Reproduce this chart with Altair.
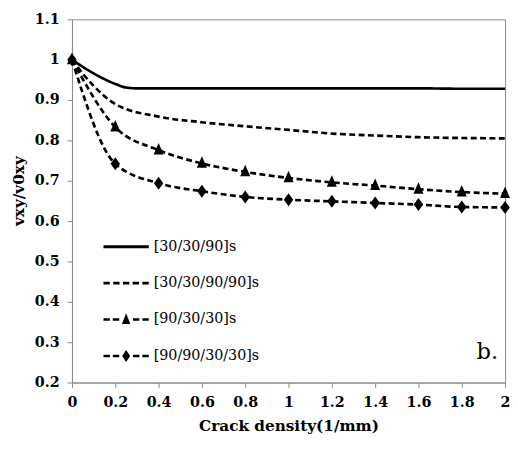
import altair as alt
import pandas as pd

series = ["[30/30/90]s", "[30/30/90/90]s", "[90/30/30]s", "[90/90/30/30]s"]

x_s1 = [0, 0.1, 0.2, 0.25, 0.3, 0.4, 0.6, 0.8, 1.0, 1.2, 1.4, 1.6, 1.8, 2.0]
y_s1 = [1.0, 0.966, 0.940, 0.931, 0.929, 0.929, 0.929, 0.929, 0.929, 0.929, 0.929, 0.929, 0.928, 0.928]

x_s2 = [0, 0.1, 0.2, 0.4, 0.6, 0.8, 1.0, 1.2, 1.4, 1.6, 1.8, 2.0]
y_s2 = [1.0, 0.935, 0.890, 0.859, 0.845, 0.835, 0.826, 0.817, 0.812, 0.808, 0.806, 0.805]

x_pts = [0, 0.2, 0.4, 0.6, 0.8, 1.0, 1.2, 1.4, 1.6, 1.8, 2.0]
y_s3 = [1.0, 0.833, 0.776, 0.743, 0.722, 0.707, 0.696, 0.688, 0.679, 0.672, 0.668]
y_s4 = [1.0, 0.742, 0.694, 0.674, 0.660, 0.653, 0.649, 0.645, 0.641, 0.635, 0.634]

x_ticks = [0, 0.2, 0.4, 0.6, 0.8, 1.0, 1.2, 1.4, 1.6, 1.8, 2.0]
y_ticks = [0.2, 0.3, 0.4, 0.5, 0.6, 0.7, 0.8, 0.9, 1.0, 1.1]

rows = []
for xs, ys, s in [(x_s1, y_s1, series[0]), (x_s2, y_s2, series[1]),
                  (x_pts, y_s3, series[2]), (x_pts, y_s4, series[3])]:
    for a, b in zip(xs, ys):
        rows.append({"x": a, "y": b, "series": s})
df = pd.DataFrame(rows)
df_pts = df[df["series"].isin(series[2:])]

# ---- legend symbol paths (custom SVG paths in unit coords) ----
K = 18.0  # sqrt(size)/2


def u(px):
    return round((px - K) / K, 4)


def v(py):
    return round(py / K, 4)


def rect(x0, x1, h=1.3):
    return f"M{u(x0)},{v(-h)}L{u(x1)},{v(-h)}L{u(x1)},{v(h)}L{u(x0)},{v(h)}Z"


def tri(cx, w, top, bot):
    return f"M{u(cx)},{v(top)}L{u(cx + w / 2)},{v(bot)}L{u(cx - w / 2)},{v(bot)}Z"


def dia(cx, w, h):
    return f"M{u(cx)},{v(-h)}L{u(cx + w / 2)},{v(0)}L{u(cx)},{v(h)}L{u(cx - w / 2)},{v(0)}Z"


leg_solid = rect(0, 46, 1.5)
p, d = 9.89, 6.43
leg_dash = "".join(rect(i * p, i * p + d) for i in range(5))
side = rect(0, 6.5) + rect(9.5, 16) + rect(30, 36.5) + rect(39.5, 46)
leg_tri = side + tri(23, 8.5, -6.5, 4.5)
leg_dia = side + dia(23, 8, 6)

serif = "DejaVu Serif"
gray = "#8a8a8a"

xenc = alt.X("x:Q", scale=alt.Scale(domain=[0, 2], nice=False),
             axis=alt.Axis(values=x_ticks, format="~g", title="Crack density(1/mm)",
                           grid=False, tickSize=5, labelPadding=8, labelFlush=False,
                           labelOverlap=False, titleY=49, titleBaseline="alphabetic"))
yenc = alt.Y("y:Q", scale=alt.Scale(domain=[0.2, 1.1], nice=False, zero=False),
             axis=alt.Axis(values=y_ticks, format="~g", title="vxy/v0xy",
                           grid=False, tickSize=5, labelPadding=8, labelOverlap=False,
                           titleX=-54, titleY=174, titleBaseline="middle"))

lines = alt.Chart(df).mark_line(color="black", strokeWidth=2.7, interpolate="monotone").encode(
    x=xenc, y=yenc,
    strokeDash=alt.StrokeDash("series:N", scale=alt.Scale(domain=series,
                              range=[[1, 0], [6, 3.5], [6, 3.5], [6, 3.5]]), legend=None),
)

points = alt.Chart(df_pts).mark_point(filled=True, color="black", opacity=1, size=144).encode(
    x="x:Q", y="y:Q",
    shape=alt.Shape("series:N", scale=alt.Scale(domain=series[2:],
                    range=["M0,-1.2L0.85,0.75L-0.85,0.75Z", "M0,-1.1L0.8,0L0,1.1L-0.8,0Z"]),
                    legend=None),
)

legend_layer = alt.Chart(df).mark_point(filled=True, color="black", opacity=0).encode(
    x="x:Q", y="y:Q",
    shape=alt.Shape("series:N",
                    scale=alt.Scale(domain=series, range=[leg_solid, leg_dash, leg_tri, leg_dia]),
                    legend=alt.Legend(title=None, orient="none", legendX=32, legendY=213,
                                      symbolSize=1296, symbolStrokeWidth=0,
                                      symbolFillColor="black", symbolOpacity=1,
                                      labelFont=serif, labelFontSize=14.5, labelColor="black",
                                      labelOffset=15, rowPadding=12, padding=0, symbolOffset=0)),
)

btext = alt.Chart(pd.DataFrame({"t": ["b."]})).mark_text(
    font=serif, fontSize=23, align="left", baseline="alphabetic", color="black"
).encode(text="t:N", x=alt.value(411), y=alt.value(345))

chart = alt.layer(lines, points, legend_layer, btext).resolve_scale(
    shape="independent"
).properties(
    width=440, height=369,
    padding={"left": 65, "top": 8, "right": 5, "bottom": 65},
    autosize=alt.AutoSizeParams(type="none"),
).configure_view(
    stroke=gray, strokeWidth=1
).configure_axis(
    labelFont=serif, labelFontSize=14.5, labelFontWeight="bold", labelColor="black",
    titleFont=serif, titleFontSize=15.5, titleFontWeight="bold", titleColor="black",
    domainColor=gray, tickColor=gray, domainWidth=1, tickWidth=1,
)

chart.save("out.html", embed_options={"renderer": "svg", "actions": False})
